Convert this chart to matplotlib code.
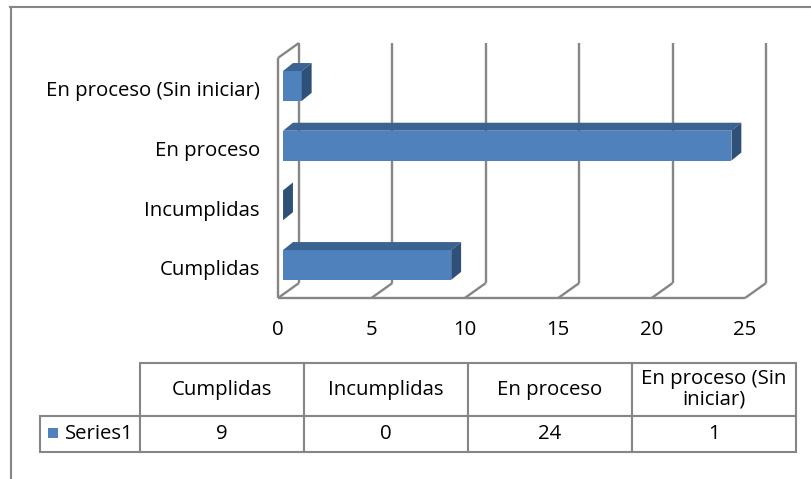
import matplotlib
matplotlib.use("Agg")
import matplotlib.pyplot as plt
from matplotlib.patches import Polygon, Rectangle
from matplotlib.table import Table
from matplotlib.transforms import ScaledTranslation

categories = ["Cumplidas", "Incumplidas", "En proceso", "En proceso (Sin iniciar)"]
values = [9, 0, 24, 1]
series_name = "Series1"
table_headers = ["Cumplidas", "Incumplidas", "En proceso", "En proceso (Sin\niniciar)"]
x_ticks = [0, 5, 10, 15, 20, 25]

plt.rcParams['font.family'] = ['Open Sans', 'DejaVu Sans']
FS = 14.7
W, H = 811, 479

fig = plt.figure(figsize=(W / 100, H / 100), dpi=100)

# fake 3d geometry (data units)
depth_x, depth_y = 1.12, 0.25      # wall depth
bar_x0, bar_h = 0.27, 0.25         # bar front offset, half height
bar_dx, bar_dy = 0.53, 0.134       # bar depth
y_floor, y_top = -0.553, 3.72
grid_c = '#868686'
front_c, top_c, side_c = '#4F81BD', '#3C6291', '#2F5078'

ax = fig.add_axes([278 / W, (H - 298) / H, 488 / W, 255 / H])
ax.set_xlim(0, x_ticks[-1] + depth_x)
ax.set_ylim(y_floor, y_top)
for s in ax.spines.values():
    s.set_visible(False)

line_kw = dict(color=grid_c, lw=1.7, zorder=1, clip_on=False, solid_capstyle='butt')
for v in x_ticks:
    ax.plot([v + depth_x] * 2, [y_floor + depth_y, y_top], **line_kw)
    ax.plot([v, v + depth_x], [y_floor, y_floor + depth_y], **line_kw)
ax.plot([0, x_ticks[-1]], [y_floor] * 2, **line_kw)
ax.plot([0, 0], [y_floor, y_top - depth_y], **line_kw)
ax.plot([0, depth_x], [y_top - depth_y, y_top], **line_kw)

for i, v in enumerate(values):
    x0, x1 = bar_x0, bar_x0 + v
    lo, hi = i - bar_h, i + bar_h
    if v > 0:
        ax.add_patch(Rectangle((x0, lo), v, 2 * bar_h, color=front_c, zorder=3, lw=0))
        ax.add_patch(Polygon([(x0, hi), (x1, hi), (x1 + bar_dx, hi + bar_dy), (x0 + bar_dx, hi + bar_dy)],
                             color=top_c, zorder=3, lw=0))
    ax.add_patch(Polygon([(x1, lo), (x1 + bar_dx, lo + bar_dy), (x1 + bar_dx, hi + bar_dy), (x1, hi)],
                         color=side_c, zorder=3, lw=0))

ax.set_xticks(x_ticks)
ax.set_yticks(range(len(categories)), categories)
ax.tick_params(axis='both', length=0, labelsize=FS)
ax.tick_params(axis='x', pad=16)
ax.tick_params(axis='y', pad=13)
# category labels sit a little lower than the bar faces
shift = ScaledTranslation(0, -3 / 100, fig.dpi_scale_trans)
for lbl in ax.get_yticklabels():
    lbl.set_transform(lbl.get_transform() + shift)

# overlay for frame + data table
ov = fig.add_axes([0, 0, 1, 1], zorder=-1)
ov.set_xlim(0, W)
ov.set_ylim(H, 0)
ov.axis('off')
ov.plot([10, W], [7, 7], color=grid_c, lw=1.5)
ov.plot([11, 11], [7, H], color=grid_c, lw=1.5)

col_w, lab_w, head_h, row_h = 164 / W, 100 / W, 53 / H, 36 / H
tb = Table(ov, bbox=[140 / W, (H - 452) / H, 4 * col_w, head_h + row_h])
for j, name in enumerate(table_headers):
    tb.add_cell(0, j, col_w, head_h, text=name, loc='center')
    tb.add_cell(1, j, col_w, row_h, text=str(values[j]), loc='center')
lab = tb.add_cell(1, -1, lab_w, row_h, text=series_name, loc='left')
lab.PAD = 0.25
tb.auto_set_font_size(False)
tb.set_fontsize(FS)
for cell in tb.get_celld().values():
    cell.set_edgecolor(grid_c)
    cell.set_linewidth(1.5)
    cell.get_text().set_linespacing(1.05)
ov.add_table(tb)
ov.add_patch(Rectangle((48, 428), 10, 10, color=front_c, lw=0, zorder=5))

fig.savefig('out.png', dpi=100)
